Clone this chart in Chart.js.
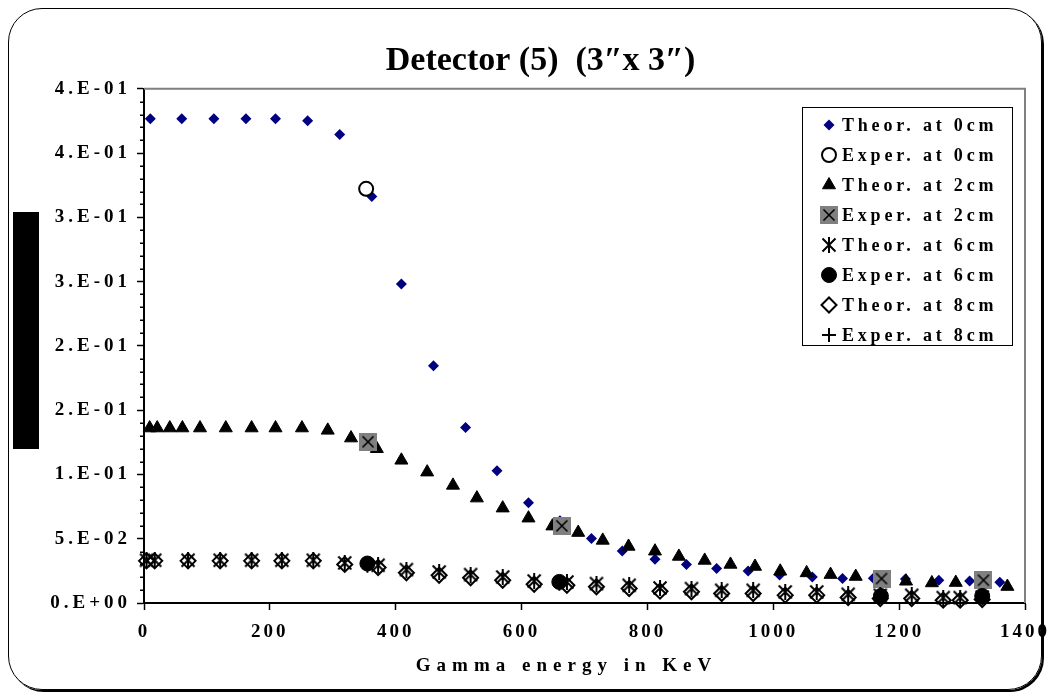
<!DOCTYPE html>
<html><head><meta charset="utf-8">
<script src="https://cdn.jsdelivr.net/npm/chart.js@4.4.0/dist/chart.umd.min.js"></script>
<style>
html,body{margin:0;padding:0;background:#fff;}
#wrap{position:relative;width:1050px;height:696px;overflow:hidden;background:#fff;}
#frame{position:absolute;left:8px;top:8px;width:1034px;height:682px;box-sizing:border-box;border:1.5px solid #000;border-radius:34px;box-shadow:2px 2px 0 #000;}
#c{position:absolute;left:0;top:0;}
</style></head><body>
<div id="wrap"><div id="frame"></div><canvas id="c" width="1050" height="696"></canvas></div>
<script>
// ---- data ----
const titleText = 'Detector (5)  (3\u2033x 3\u2033)';
const xAxisTitle = 'Gamma energy in KeV';
const xTickLabels = ['0','200','400','600','800','1000','1200','1400'];
const yTickLabels = ['0.E+00','5.E-02','1.E-01','2.E-01','2.E-01','3.E-01','3.E-01','4.E-01','4.E-01'];
const seriesNames = ['Theor. at 0cm','Exper. at 0cm','Theor. at 2cm','Exper. at 2cm','Theor. at 6cm','Exper. at 6cm','Theor. at 8cm','Exper. at 8cm'];

const theor0E = [10,60,111,162,209,260,311,362,409,460,511,561,611,661,711,760,812,862,910,960,1010,1062,1110,1159,1210,1263,1312,1360];
const theor0V = [0.3767,0.3767,0.3767,0.3767,0.3767,0.3751,0.3645,0.3162,0.2482,0.1846,0.1366,0.1028,0.0779,0.0640,0.0502,0.0405,0.0340,0.0299,0.0268,0.0249,0.0218,0.0202,0.0190,0.0193,0.0186,0.0177,0.0171,0.0161];
const exper0E = [353];
const exper0V = [0.3222];
const theor2E = [9,21,41,61,89,130,171,209,251,292,329,370,409,450,491,529,570,611,649,690,729,770,812,850,891,932,971,1011,1053,1091,1131,1171,1211,1252,1290,1332,1372];
const theor2V = [0.1361,0.1361,0.1361,0.1361,0.1361,0.1361,0.1361,0.1361,0.1361,0.1343,0.1283,0.1200,0.1110,0.1018,0.0915,0.0816,0.0738,0.0660,0.0598,0.0548,0.0487,0.0440,0.0403,0.0362,0.0331,0.0300,0.0284,0.0247,0.0234,0.0221,0.0206,0.0190,0.0169,0.0156,0.0159,0.0150,0.0128];
const exper2E = [356,664,1172,1334];
const exper2V = [0.1254,0.0600,0.0190,0.0177];
const theor6E = [4,17,70,121,171,219,269,319,372,417,469,519,570,620,672,719,771,820,870,918,968,1019,1069,1119,1170,1220,1270,1297,1332];
const theor6V = [0.0333,0.0333,0.0333,0.0333,0.0333,0.0333,0.0333,0.0312,0.0294,0.0260,0.0241,0.0221,0.0202,0.0171,0.0163,0.0151,0.0138,0.0117,0.0112,0.0099,0.0099,0.0086,0.0086,0.0068,0.0060,0.0060,0.0042,0.0042,0.0047];
const exper6E = [355,660,1171,1332];
const exper6V = [0.0307,0.0164,0.0055,0.0055];
const theor8E = [4,17,70,121,171,219,269,319,372,417,469,519,570,620,672,719,771,820,870,918,968,1019,1069,1119,1170,1220,1270,1297,1332];
const theor8V = [0.0328,0.0328,0.0328,0.0328,0.0328,0.0328,0.0328,0.0300,0.0276,0.0235,0.0216,0.0196,0.0177,0.0146,0.0138,0.0126,0.0113,0.0092,0.0087,0.0074,0.0074,0.0061,0.0061,0.0043,0.0035,0.0035,0.0022,0.0022,0.0027];
const exper8E = [355,660,1171,1332];
const exper8V = [0.0290,0.0150,0.0050,0.0050];
const yMinorStep = 0.01;

// ---- custom marker images ----
function makeAsterisk(){
  const c=document.createElement('canvas'); c.width=16; c.height=16;
  const g=c.getContext('2d'); g.strokeStyle='#000'; g.lineWidth=2;
  g.beginPath(); g.moveTo(1.5,1.5); g.lineTo(14.5,14.5); g.moveTo(14.5,1.5); g.lineTo(1.5,14.5);
  g.moveTo(8,0); g.lineTo(8,16); g.stroke(); return c;
}
function makeGraySquareX(){
  const c=document.createElement('canvas'); c.width=18; c.height=18;
  const g=c.getContext('2d'); g.fillStyle='#808080'; g.fillRect(0,0,18,18);
  g.strokeStyle='#000'; g.lineWidth=1.6;
  g.beginPath(); g.moveTo(3.5,3.5); g.lineTo(14.5,14.5); g.moveTo(14.5,3.5); g.lineTo(3.5,14.5); g.stroke(); return c;
}
const asteriskImg = makeAsterisk();
const squareXImg = makeGraySquareX();

const pts = (E,V)=>E.map((x,i)=>({x:x,y:V[i]}));
const styles = [
  {pointStyle:'rectRot', pointRadius:5.5, pointBorderWidth:0, pointBackgroundColor:'#000080', pointBorderColor:'#000080'},
  {pointStyle:'circle', pointRadius:7, pointBorderWidth:2, pointBackgroundColor:'#ffffff', pointBorderColor:'#000'},
  {pointStyle:'triangle', pointRadius:7.5, pointBorderWidth:1, pointBackgroundColor:'#000', pointBorderColor:'#000'},
  {pointStyle:squareXImg, pointRadius:8, pointBorderWidth:0, pointBackgroundColor:'#808080', pointBorderColor:'#000'},
  {pointStyle:asteriskImg, pointRadius:8, pointBorderWidth:0, pointBackgroundColor:'#000', pointBorderColor:'#000'},
  {pointStyle:'circle', pointRadius:7.5, pointBorderWidth:1, pointBackgroundColor:'#000', pointBorderColor:'#000'},
  {pointStyle:'rectRot', pointRadius:7.5, pointBorderWidth:2, pointBackgroundColor:'rgba(0,0,0,0)', pointBorderColor:'#000'},
  {pointStyle:'cross', pointRadius:7, pointBorderWidth:2, pointBackgroundColor:'#000', pointBorderColor:'#000'}
];
const seriesData = [pts(theor0E,theor0V),pts(exper0E,exper0V),pts(theor2E,theor2V),pts(exper2E,exper2V),
                    pts(theor6E,theor6V),pts(exper6E,exper6V),pts(theor8E,theor8V),pts(exper8E,exper8V)];
const datasets = seriesData.map((d,i)=>Object.assign({label:seriesNames[i], data:d, showLine:false, clip:false, order:-i, pointHoverRadius:styles[i].pointRadius}, styles[i]));

const SERIF = '"Liberation Serif", "Times New Roman", serif';

function wrapSpacing(ctx, obj, name, spacing, extra){
  if (!obj || obj['__w_'+name]) return;
  const orig = obj[name];
  obj[name] = function(){
    ctx.save(); ctx.letterSpacing = spacing;
    if (extra) extra(ctx);
    const r = orig.apply(this, arguments);
    ctx.restore(); return r;
  };
  obj['__w_'+name] = true;
}

function drawMarker(ctx, ds, x, y){
  const st = ds.pointStyle, r = ds.pointRadius, bw = ds.pointBorderWidth;
  ctx.save();
  if (typeof st !== 'string'){ ctx.drawImage(st, x - st.width/2, y - st.height/2); ctx.restore(); return; }
  ctx.fillStyle = ds.pointBackgroundColor; ctx.strokeStyle = ds.pointBorderColor; ctx.lineWidth = bw;
  ctx.beginPath();
  if (st==='circle') ctx.arc(x,y,r,0,Math.PI*2);
  else if (st==='rectRot'){ ctx.moveTo(x-r,y); ctx.lineTo(x,y-r); ctx.lineTo(x+r,y); ctx.lineTo(x,y+r); ctx.closePath(); }
  else if (st==='triangle'){ ctx.moveTo(x,y-r); ctx.lineTo(x+0.866*r,y+0.5*r); ctx.lineTo(x-0.866*r,y+0.5*r); ctx.closePath(); }
  else if (st==='cross'){ ctx.moveTo(x,y-r); ctx.lineTo(x,y+r); ctx.moveTo(x-r,y); ctx.lineTo(x+r,y); }
  if (st!=='cross') ctx.fill();
  if (bw>0) ctx.stroke();
  ctx.restore();
}

const decor = {
  id:'decor',
  beforeUpdate(chart){ chart.ctx.letterSpacing='0px'; },
  beforeDraw(chart){
    const ctx = chart.ctx;
    ctx.letterSpacing = '0px';
    wrapSpacing(ctx, chart.scales.x, 'drawLabels', '3px');
    wrapSpacing(ctx, chart.scales.y, 'drawLabels', '4px');
    wrapSpacing(ctx, chart.scales.x, 'drawTitle', '6px', c=>{ c.translate(-18,0); });
    wrapSpacing(ctx, chart.titleBlock, 'draw', '0px', c=>{ c.translate(28,0); });
  },
  beforeDatasetsDraw(chart){
    const ctx = chart.ctx, a = chart.chartArea;
    ctx.save();
    ctx.strokeStyle = '#808080'; ctx.lineWidth = 2;
    ctx.beginPath(); ctx.moveTo(a.left, a.top); ctx.lineTo(a.right, a.top); ctx.lineTo(a.right, a.bottom); ctx.stroke();
    // minor ticks on y axis
    const ys = chart.scales.y;
    ctx.strokeStyle = '#000'; ctx.lineWidth = 1.5;
    ctx.beginPath();
    for (let k = 0; k <= Math.round(ys.max / yMinorStep); k++){
      if (k % 5 === 0) continue;
      const py = Math.round(ys.getPixelForValue(k * yMinorStep)) + 0.25;
      ctx.moveTo(a.left - 4, py); ctx.lineTo(a.left, py);
    }
    ctx.stroke();
    ctx.restore();
  },
  afterDraw(chart){
    const ctx = chart.ctx;
    ctx.save();
    ctx.letterSpacing = '0px';
    // black block at left
    ctx.fillStyle = '#000'; ctx.fillRect(13, 212, 26, 237);
    // legend
    const L = 802, T = 107, W = 210, H = 238;
    ctx.fillStyle = '#fff'; ctx.fillRect(L, T, W, H);
    ctx.strokeStyle = '#000'; ctx.lineWidth = 1; ctx.strokeRect(L + 0.5, T + 0.5, W, H);
    chart.data.datasets.forEach((ds, i) => {
      const y = T + 18 + i * 30;
      drawMarker(ctx, ds, 829, y);
      ctx.save();
      ctx.letterSpacing = '3.8px';
      ctx.font = 'bold 18px ' + SERIF;
      ctx.fillStyle = '#000'; ctx.textBaseline = 'middle'; ctx.textAlign = 'left';
      ctx.fillText(ds.label, 842, y + 1);
      ctx.restore();
    });
    ctx.restore();
  }
};

new Chart(document.getElementById('c'), {
  type: 'scatter',
  data: { datasets: datasets },
  plugins: [decor],
  options: {
    responsive: false, animation: false, devicePixelRatio: 1,
    events: [],
    layout: { padding: { left: 0, right: 25, top: 0, bottom: 0 } },
    plugins: {
      legend: { display: false },
      tooltip: { enabled: false },
      title: { display: true, text: titleText, color: '#000',
        font: { family: SERIF, size: 34, weight: 'bold', lineHeight: 1.2 },
        padding: { top: 41, bottom: 7 } }
    },
    scales: {
      x: {
        type: 'linear', min: 0, max: 1400,
        ticks: { stepSize: 200, autoSkip: false, maxRotation: 0, color: '#000', padding: 11,
          font: { family: SERIF, size: 19, weight: 'bold' },
          callback: (v, i) => xTickLabels[i] },
        grid: { drawOnChartArea: false, drawTicks: true, tickLength: 7, tickColor: '#000', tickWidth: 1.5 },
        border: { display: true, color: '#000', width: 2 },
        title: { display: true, text: xAxisTitle, color: '#000',
          font: { family: SERIF, size: 19, weight: 'bold', lineHeight: 1.2 },
          padding: { top: 0, bottom: 19 } },
        afterFit(s){ s.height = 93; s.paddingLeft = 0; s.paddingRight = 0; }
      },
      y: {
        type: 'linear', min: 0, max: 0.4,
        ticks: { stepSize: 0.05, autoSkip: false, color: '#000', padding: 6,
          font: { family: SERIF, size: 19, weight: 'bold' },
          callback: (v, i) => yTickLabels[i] },
        grid: { drawOnChartArea: false, drawTicks: true, tickLength: 7, tickColor: '#000', tickWidth: 1.5 },
        border: { display: true, color: '#000', width: 2 },
        afterFit(s){ s.width = 144; s.paddingTop = 0; s.paddingBottom = 0; }
      }
    }
  }
});
</script>
</body></html>
